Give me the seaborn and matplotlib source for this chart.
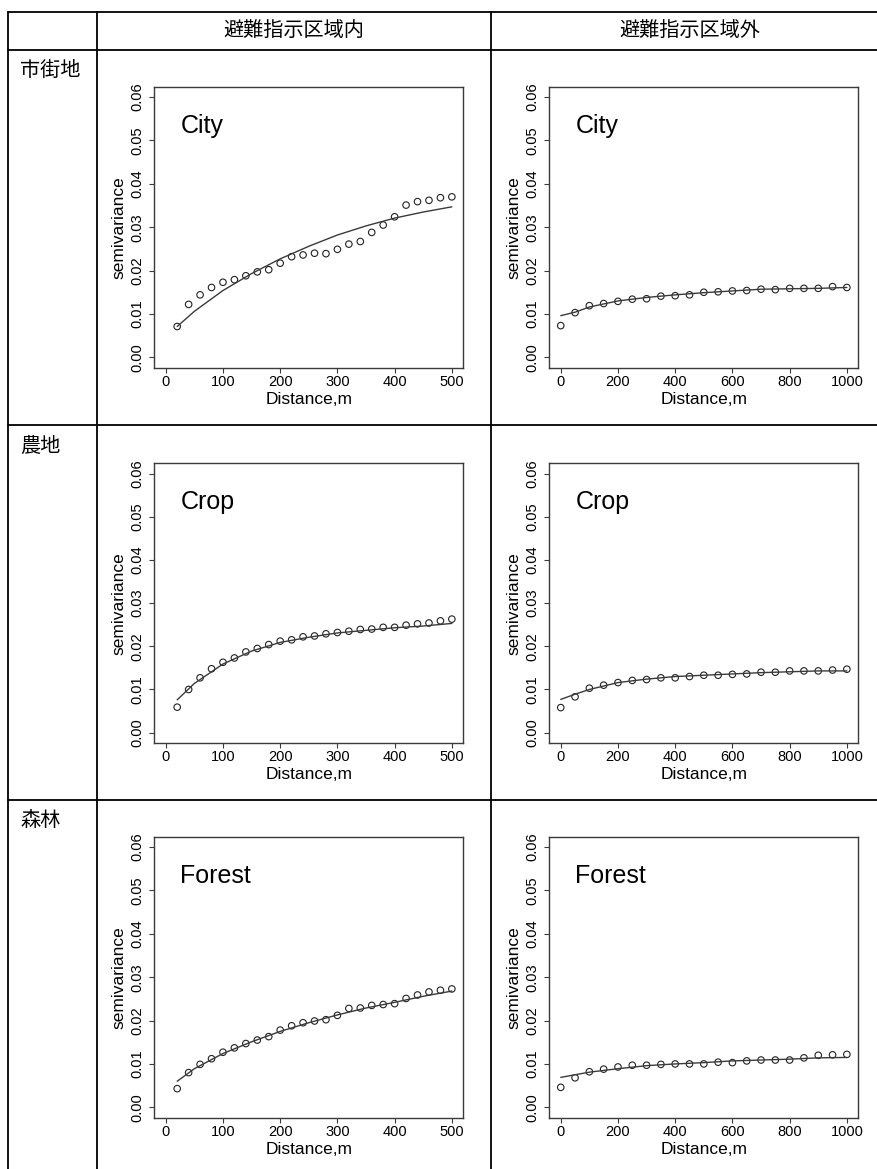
import matplotlib
matplotlib.use("Agg")
import matplotlib.pyplot as plt
import seaborn as sns
from matplotlib.lines import Line2D

sns.set_style("ticks")
plt.rcParams["font.family"] = ["Liberation Sans", "Noto Sans CJK JP", "DejaVu Sans"]
plt.rcParams["text.color"] = "black"
plt.rcParams["axes.labelcolor"] = "black"
plt.rcParams["xtick.color"] = "black"
plt.rcParams["ytick.color"] = "black"

# ---------------- data ----------------
col_headers = ["避難指示区域内", "避難指示区域外"]
row_headers = ["市街地", "農地", "森林"]
panel_titles = ["City", "Crop", "Forest"]

x_in = [20, 40, 60, 80, 100, 120, 140, 160, 180, 200, 220, 240, 260,
        280, 300, 320, 340, 360, 380, 400, 420, 440, 460, 480, 500]
x_out = [0, 50, 100, 150, 200, 250, 300, 350, 400, 450, 500, 550, 600,
         650, 700, 750, 800, 850, 900, 950, 1000]

city_in_pts = [0.0071, 0.0122, 0.0144, 0.0161, 0.0173, 0.0179, 0.0188, 0.0197,
               0.0202, 0.0217, 0.0232, 0.0236, 0.0240, 0.0239, 0.0249, 0.0261,
               0.0267, 0.0288, 0.0305, 0.0324, 0.0351, 0.0359, 0.0362, 0.0368,
               0.0370]
crop_in_pts = [0.0059, 0.0100, 0.0127, 0.0148, 0.0163, 0.0173, 0.0187, 0.0195,
               0.0204, 0.0212, 0.0215, 0.0222, 0.0224, 0.0229, 0.0232, 0.0235,
               0.0239, 0.0240, 0.0244, 0.0244, 0.0249, 0.0252, 0.0254, 0.0259,
               0.0263]
forest_in_pts = [0.0043, 0.0080, 0.0099, 0.0112, 0.0127, 0.0137, 0.0147, 0.0155,
                 0.0163, 0.0178, 0.0188, 0.0195, 0.0199, 0.0202, 0.0212, 0.0228,
                 0.0229, 0.0235, 0.0237, 0.0239, 0.0251, 0.0259, 0.0266, 0.0270,
                 0.0273]

city_out_pts = [0.0073, 0.0103, 0.0119, 0.0124, 0.0129, 0.0134, 0.0135, 0.0141,
                0.0142, 0.0144, 0.0150, 0.0151, 0.0153, 0.0154, 0.0157, 0.0156,
                0.0159, 0.0159, 0.0159, 0.0163, 0.0161]
crop_out_pts = [0.0058, 0.0083, 0.0103, 0.0110, 0.0116, 0.0121, 0.0123, 0.0127,
                0.0127, 0.0130, 0.0133, 0.0133, 0.0135, 0.0136, 0.0140, 0.0140,
                0.0143, 0.0143, 0.0143, 0.0145, 0.0147]
forest_out_pts = [0.0046, 0.0068, 0.0082, 0.0088, 0.0093, 0.0097, 0.0097, 0.0099,
                  0.0100, 0.0100, 0.0100, 0.0104, 0.0103, 0.0107, 0.0109, 0.0109,
                  0.0109, 0.0114, 0.0120, 0.0121, 0.0122]

# fitted model curves
xl_in = [20, 50, 100, 150, 200, 250, 300, 350, 400, 450, 500]
xl_out = [0, 50, 100, 200, 300, 400, 500, 600, 700, 800, 900, 1000]

city_in_fit = [0.0071, 0.0106, 0.0154, 0.0193, 0.0227, 0.0256, 0.0282,
               0.0303, 0.0321, 0.0335, 0.0347]
crop_in_fit = [0.0076, 0.0114, 0.0159, 0.0189, 0.0209, 0.0221, 0.0231,
               0.0237, 0.0243, 0.0247, 0.0253]
forest_in_fit = [0.0060, 0.0089, 0.0124, 0.0151, 0.0175, 0.0195, 0.0213,
                 0.0229, 0.0242, 0.0256, 0.0268]

city_out_fit = [0.0096, 0.0104, 0.0116, 0.0130, 0.0138, 0.0144, 0.0149,
                0.0153, 0.0157, 0.0158, 0.0159, 0.0161]
crop_out_fit = [0.0077, 0.0089, 0.0100, 0.0116, 0.0124, 0.0130, 0.0133,
                0.0136, 0.0139, 0.0141, 0.0143, 0.0143]
forest_out_fit = [0.0069, 0.0075, 0.0081, 0.0089, 0.0096, 0.0100, 0.0103,
                  0.0107, 0.0109, 0.0111, 0.0114, 0.0115]

y_ticks = [0.00, 0.01, 0.02, 0.03, 0.04, 0.05, 0.06]
y_ticklabels = ["0.00", "0.01", "0.02", "0.03", "0.04", "0.05", "0.06"]
x_ticks_in = [0, 100, 200, 300, 400, 500]
x_ticks_out = [0, 200, 400, 600, 800, 1000]

# ---------------- layout ----------------
W, H = 877, 1169
fig = plt.figure(figsize=(W / 100, H / 100), dpi=100)
fig.patch.set_facecolor("white")


def fx(px):
    return px / W


def fy(py):
    return 1 - py / H


# table lines
lc = "black"
lw = 1.3
for yy in [12, 50, 425, 800]:
    fig.add_artist(Line2D([fx(7.5), 1.0], [fy(yy), fy(yy)], color=lc, lw=lw))
for xx in [7.5, 97, 491]:
    fig.add_artist(Line2D([fx(xx), fx(xx)], [fy(12), 0.0], color=lc, lw=lw))

# headers
cjk = ["Noto Sans CJK JP", "DejaVu Sans"]
fig.text(fx(294), fy(31), col_headers[0], ha="center", va="center",
         fontsize=14.5, family=cjk, color="black")
fig.text(fx(690), fy(31), col_headers[1], ha="center", va="center",
         fontsize=14.5, family=cjk, color="black")
for lab, yc in zip(row_headers, [70, 446, 821]):
    fig.text(fx(20), fy(yc), lab, ha="left", va="center", fontsize=14.5,
             family=cjk, color="black")

panels = [
    [(x_in, city_in_pts, xl_in, city_in_fit), (x_out, city_out_pts, xl_out, city_out_fit)],
    [(x_in, crop_in_pts, xl_in, crop_in_fit), (x_out, crop_out_pts, xl_out, crop_out_fit)],
    [(x_in, forest_in_pts, xl_in, forest_in_fit), (x_out, forest_out_pts, xl_out, forest_out_fit)],
]

col_x = [(154.3, 463.3), (549.3, 858.3)]
row_y = [(86.7, 367.7), (463.3, 743.0), (836.7, 1117.7)]
frame_c = "#3a3a3a"

for r in range(3):
    for c in range(2):
        x0, x1 = col_x[c]
        y0, y1 = row_y[r]
        ax = fig.add_axes([fx(x0), fy(y1), fx(x1) - fx(x0), (y1 - y0) / H])
        xp, yp, xf, yf = panels[r][c]
        sns.lineplot(x=xf, y=yf, ax=ax, color="#3a3a3a", lw=1.0, sort=True)
        sns.scatterplot(x=xp, y=yp, ax=ax, marker="o", s=22,
                        facecolors="none", edgecolors="#222222", linewidth=0.8)
        ax.collections[-1].set_facecolor("none")
        ax.collections[-1].set_edgecolor("#222222")
        ax.set_ylim(-0.0024, 0.0624)
        if c == 0:
            ax.set_xlim(-20, 520)
            ax.set_xticks(x_ticks_in)
        else:
            ax.set_xlim(-40, 1040)
            ax.set_xticks(x_ticks_out)
        ax.set_yticks(y_ticks)
        ax.set_yticklabels(y_ticklabels, rotation=90, va="center")
        ax.tick_params(axis="both", direction="out", length=3.6, width=0.8,
                       color=frame_c, labelsize=10.5, labelcolor="black")
        ax.tick_params(axis="x", pad=1.5)
        ax.tick_params(axis="y", pad=3.5)
        for sp in ax.spines.values():
            sp.set_visible(True)
            sp.set_color(frame_c)
            sp.set_linewidth(1.0)
        ax.set_xlabel("Distance,m", fontsize=12.5, labelpad=2, color="black")
        ax.set_ylabel("semivariance", fontsize=12.5, labelpad=3, color="black")
        ax.text(0.084, 0.837, panel_titles[r], transform=ax.transAxes,
                fontsize=18, ha="left", va="baseline", color="black")
        ax.set_facecolor("white")

fig.savefig("out.png", dpi=100, facecolor="white")
